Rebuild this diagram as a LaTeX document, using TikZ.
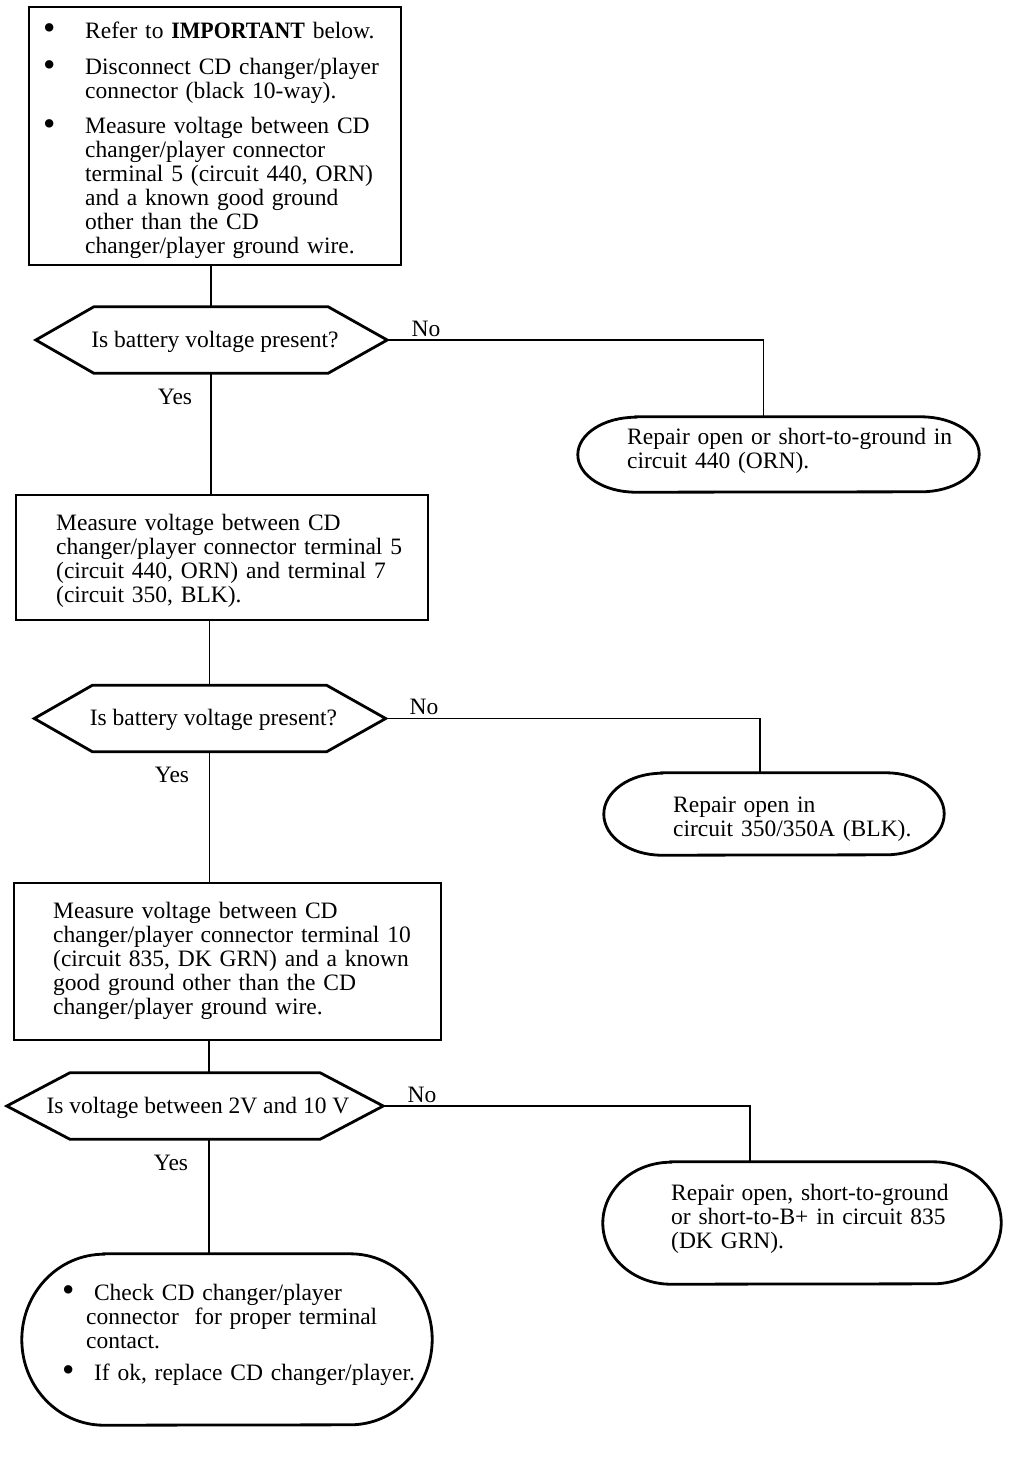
\documentclass[tikz,border=0pt]{standalone}
\usepackage{fontspec}
\setmainfont{Liberation Serif}
\usepackage{graphicx}
\usetikzlibrary{calc}
\newcommand{\bul}{\raisebox{-1.5pt}{\scalebox{1.5}{\textbullet}}}
\newcommand{\fst}{\rule{0pt}{17pt}}
\newcommand{\dectext}[2]{\makebox[0pt][c]{\hspace*{#1}\raisebox{-7pt}[0pt][0pt]{#2}}}
\newcommand{\ovalpath}[3]{\draw[outline] ([xshift=#2]#1.north west) -- ([xshift=-#2]#1.north east) arc[start angle=90,end angle=-90,x radius=#2pt,y radius=#3pt] -- ([xshift=#2]#1.south west) arc[start angle=270,end angle=90,x radius=#2pt,y radius=#3pt] -- cycle;}
\tikzset{
  outline/.style={line width=2.8pt, line join=miter},
  box/.style={draw, line width=2.8pt, inner sep=0pt},
  shapebase/.style={draw=none, inner sep=0pt},
  dec/.style={draw=none, inner sep=0pt, minimum height=66, font=\fontsize{23.5pt}{24pt}\selectfont},
  txt/.style={anchor=north west, inner sep=0pt, align=left, text width=420pt, font=\fontsize{23.5pt}{24pt}\selectfont},
  lbl/.style={inner sep=0pt, font=\fontsize{23.5pt}{24pt}\selectfont},
  conn/.style={line width=1.7pt}
}
\begin{document}
\begin{tikzpicture}[x=1pt,y=-1pt]
\useasboundingbox (0,0) rectangle (1024,1460);

% ---- boxes
\node[box, minimum width=372, minimum height=258] (b1) at (215,136) {};
\node[box, minimum width=412, minimum height=125] (b2) at (222,557.5) {};
\node[box, minimum width=427, minimum height=157] (b3) at (227.5,961.5) {};

% ---- decisions
\node[dec, minimum width=234] (d1) at (211,340) {\dectext{8pt}{Is battery voltage present?}};
\draw[outline] (d1.north west) -- (d1.north east) -- ($(d1.east)+(59,0)$) coordinate (d1r)
  -- (d1.south east) -- (d1.south west) -- ($(d1.west)+(-58,0)$) -- cycle;
\node[dec, minimum width=234] (d2) at (209.5,718.5) {\dectext{8pt}{Is battery voltage present?}};
\draw[outline] (d2.north west) -- (d2.north east) -- ($(d2.east)+(59,0)$) coordinate (d2r)
  -- (d2.south east) -- (d2.south west) -- ($(d2.west)+(-58,0)$) -- cycle;
\node[dec, minimum width=250] (d3) at (195,1106) {\dectext{6pt}{Is voltage between 2V and 10 V}};
\draw[outline] (d3.north west) -- (d3.north east) -- ($(d3.east)+(63,0)$) coordinate (d3r)
  -- (d3.south east) -- (d3.south west) -- ($(d3.west)+(-63,0)$) -- cycle;

% ---- ovals
\node[shapebase, minimum width=401, minimum height=75] (o1) at (778.5,454.5) {};
\ovalpath{o1}{58}{37.5}
\node[shapebase, minimum width=340, minimum height=82] (o2) at (774,814) {};
\ovalpath{o2}{58}{41}
\node[shapebase, minimum width=398, minimum height=122] (o3) at (802,1223) {};
\ovalpath{o3}{68}{61}
\node[shapebase, minimum width=410, minimum height=171] (o4) at (227,1339.5) {};
\ovalpath{o4}{82}{85.5}

% ---- texts
\node[txt] (t1) at (43,21) {\fst\makebox[42pt][l]{\bul}Refer to \scalebox{0.93}[1]{\textbf{IMPORTANT}} below.\\[12.5pt]
\makebox[42pt][l]{\bul}Disconnect CD changer/player\\
\hspace*{42pt}connector (black 10-way).\\[11pt]
\makebox[42pt][l]{\bul}Measure voltage between CD\\
\hspace*{42pt}changer/player connector\\
\hspace*{42pt}terminal 5 (circuit 440, ORN)\\
\hspace*{42pt}and a known good ground\\
\hspace*{42pt}other than the CD\\
\hspace*{42pt}changer/player ground wire.};

\node[txt] (t2) at (56,513) {\fst Measure voltage between CD\\
changer/player connector terminal 5\\
(circuit 440, ORN) and terminal 7\\
(circuit 350, BLK).};

\node[txt] (t3) at (53,901) {\fst Measure voltage between CD\\
changer/player connector terminal 10\\
(circuit 835, DK GRN) and a known\\
good ground other than the CD\\
changer/player ground wire.};

\node[txt] (to1) at (627,427) {\fst Repair open or short-to-ground in\\
circuit 440 (ORN).};

\node[txt] (to2) at (673,795) {\fst Repair open in\\
circuit 350/350A (BLK).};

\node[txt] (to3) at (671,1183) {\fst Repair open, short-to-ground\\
or short-to-B+ in circuit 835\\
(DK GRN).};

\node[txt] (to4) at (62,1283) {\fst\makebox[24pt][l]{\bul}\ Check CD changer/player\\
\hspace*{24pt}connector\ \ for proper terminal\\
\hspace*{24pt}contact.\\[8pt]
\makebox[24pt][l]{\bul}\ If ok, replace CD changer/player.};

% ---- labels
\node[lbl] (n1) at (426,329) {No};
\node[lbl] (y1) at (175,397) {Yes};
\node[lbl] (n2) at (424,707) {No};
\node[lbl] (y2) at (172,775) {Yes};
\node[lbl] (n3) at (422,1095) {No};
\node[lbl] (y3) at (171,1163) {Yes};

% ---- connectors
\coordinate (o1t) at ($(o1.north)+(-15,0)$);
\coordinate (o2t) at ($(o2.north)+(-14,0)$);
\coordinate (o3t) at ($(o3.north)+(-52,0)$);
\coordinate (d3t) at ($(d3.north)+(14,0)$);
\coordinate (d3b) at ($(d3.south)+(14,0)$);

\draw[conn] (b1.south -| d1.north) -- (d1.north);
\draw[conn] (d1.south) -- (d1.south |- b2.north);
\draw[conn] (b2.south -| d2.north) -- (d2.north);
\draw[conn] (d2.south) -- (d2.south |- b3.north);
\draw[conn] (b3.south -| d3t) -- (d3t);
\draw[conn] (d3b) -- (d3b |- o4.north);

\draw[conn] (d1r) -| (o1t);
\draw[conn] (d2r) -| (o2t);
\draw[conn] (d3r) -| (o3t);
\end{tikzpicture}
\end{document}
